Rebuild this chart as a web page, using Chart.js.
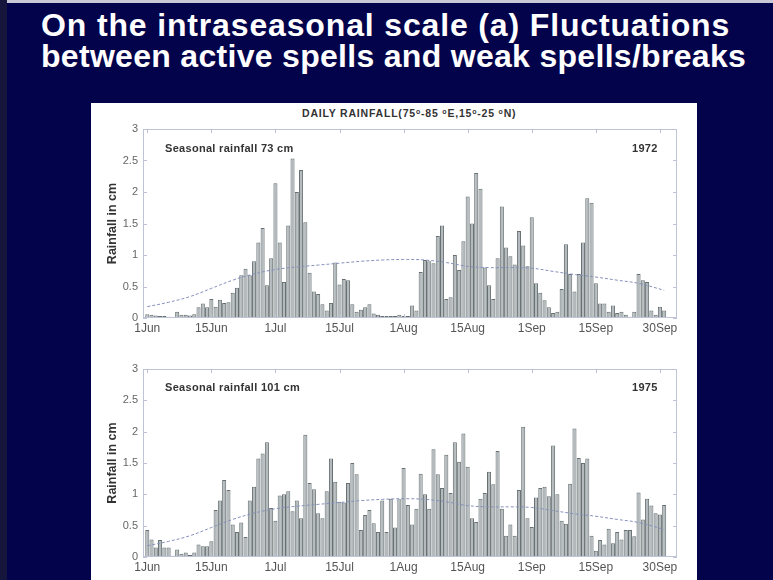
<!DOCTYPE html>
<html>
<head>
<meta charset="utf-8">
<script src="https://cdn.jsdelivr.net/npm/chart.js@4.4.1/dist/chart.umd.min.js"></script>
<style>
  html, body { margin: 0; padding: 0; }
  body {
    width: 773px; height: 580px; overflow: hidden; position: relative;
    background: #03034c; font-family: "Liberation Sans", Arial, sans-serif;
  }
  .edge-top { position: absolute; left: 0; top: 0; width: 773px; height: 3px; background: #c8c8d6; }
  .edge-left { position: absolute; left: 0; top: 0; width: 7px; height: 580px; background: #16163c; }
  .title {
    position: absolute; left: 41px; margin: 0;
    color: #fff; font-size: 32px; line-height: 30px; font-weight: bold; white-space: nowrap;
  }
  .panel { position: absolute; left: 91px; top: 103px; width: 606px; height: 480px; background: #fff; }
  canvas { position: absolute; left: 91px; }
  #chartTop { top: 116px; }
  #chartBottom { top: 356px; }
  .lbl { position: absolute; font-size: 11px; font-weight: bold; color: #333; white-space: nowrap; letter-spacing: 0.3px; }
  .head { position: absolute; left: 302px; top: 107px; font-size: 10.5px; letter-spacing: 0.8px; font-weight: bold; color: #333; white-space: nowrap; }
  .head sup { font-size: 7px; vertical-align: 3px; }
</style>
</head>
<body>
<div class="edge-top"></div>
<div class="edge-left"></div>
<div class="title" style="top:10px; letter-spacing:0.85px;">On the intraseasonal scale (a) Fluctuations</div>
<div class="title" style="top:41px; letter-spacing:0.3px;">between active spells and weak spells/breaks</div>
<div class="panel"></div>
<div class="head">DAILY RAINFALL(75<sup>o</sup>-85 <sup>o</sup>E,15<sup>o</sup>-25 <sup>o</sup>N)</div>
<canvas id="chartTop" width="606" height="224"></canvas>
<canvas id="chartBottom" width="606" height="223"></canvas>
<div class="lbl" style="left:165px; top:142px;">Seasonal rainfall 73 cm</div>
<div class="lbl" style="left:632px; top:142px;">1972</div>
<div class="lbl" style="left:165px; top:381px;">Seasonal rainfall 101 cm</div>
<div class="lbl" style="left:632px; top:381px;">1975</div>

<script>
// daily rainfall (cm), 1 Jun .. 30 Sep
const rain1972 = [
  0.06, 0.05, 0.04, 0.03, 0.03, 0.02, 0, 0.1, 0.05, 0.05,
  0.04, 0.06, 0.17, 0.23, 0.17, 0.3, 0.18, 0.29, 0.24, 0.25,
  0.4, 0.48, 0.68, 0.78, 0.68, 0.9, 1.2, 1.43, 0.52, 0.95,
  2.14, 1.2, 0.57, 1.47, 2.53, 2.0, 2.35, 1.52, 0.72, 0.42,
  0.38, 0.22, 0.12, 0.24, 0.88, 0.53, 0.62, 0.6, 0.22, 0.1,
  0.13, 0.17, 0.22, 0.07, 0.05, 0.03, 0.03, 0.03, 0.03, 0.05,
  0.03, 0.03, 0.2, 0.12, 0.73, 0.92, 0.9, 0.87, 1.3, 1.47,
  0.3, 0.33, 1.0, 0.76, 1.22, 1.93, 1.5, 2.3, 2.05, 0.8,
  0.52, 0.3, 0.95, 1.77, 1.12, 0.98, 0.85, 1.38, 1.15, 0.82,
  1.6, 0.55, 0.4, 0.28, 0.17, 0.08, 0.1, 0.46, 1.17, 0.7,
  0.42, 0.7, 1.2, 1.9, 1.83, 0.55, 0.23, 0.23, 0.1, 0.2,
  0.08, 0.1, 0.05, 0.02, 0.1, 0.7, 0.6, 0.57, 0.12, 0.05,
  0.18, 0.12
];

const rain1975 = [
  0.43, 0.28, 0.15, 0.27, 0.15, 0.15, 0.02, 0.12, 0.05, 0.07,
  0.03, 0.07, 0.2, 0.17, 0.17, 0.25, 0.75, 0.9, 1.23, 1.07,
  0.52, 0.4, 0.55, 0.32, 0.9, 1.12, 1.57, 1.65, 1.83, 0.78,
  0.58, 0.98, 1.0, 1.05, 0.73, 0.9, 0.62, 1.95, 1.18, 1.08,
  0.7, 0.62, 1.05, 1.57, 1.2, 0.88, 0.87, 1.18, 1.5, 1.32,
  0.43, 0.67, 0.75, 0.54, 0.4, 0.9, 0.4, 0.93, 0.47, 0.92,
  1.42, 0.83, 0.52, 0.77, 1.33, 1.0, 0.77, 1.72, 1.32, 1.1,
  1.63, 1.02, 1.83, 1.52, 1.97, 1.44, 0.62, 0.56, 0.93, 1.02,
  1.36, 1.16, 1.69, 0.77, 0.34, 0.52, 0.34, 1.07, 2.08, 0.62,
  0.48, 0.95, 1.1, 1.12, 0.97, 1.78, 1.0, 0.58, 0.53, 1.17,
  2.05, 1.58, 1.5, 1.57, 0.34, 0.1, 0.27, 0.2, 0.45, 0.22,
  0.4, 0.28, 0.43, 0.43, 0.33, 1.03, 0.6, 0.93, 0.82, 0.7,
  0.68, 0.83
];

// climatological daily mean (smooth curve), sampled every 5 days
const climDays = [0, 5, 10, 15, 20, 25, 30, 35, 40, 45, 50, 55, 60, 65, 70, 75, 80, 85, 90, 95, 100, 105, 110, 115, 121];
const climMean = [0.18, 0.25, 0.34, 0.47, 0.6, 0.7, 0.77, 0.81, 0.84, 0.87, 0.9, 0.92, 0.93, 0.92, 0.88, 0.82, 0.8, 0.8, 0.79, 0.74, 0.69, 0.65, 0.6, 0.55, 0.44];

const tickDays = [0, 15, 30, 45, 60, 75, 90, 105, 120];
const tickLabels = ["1Jun", "15Jun", "1Jul", "15Jul", "1Aug", "15Aug", "1Sep", "15Sep", "30Sep"];

const boxPlugin = {
    id: "box",
    afterDatasetsDraw(chart) {
        const { ctx, chartArea: a, scales } = chart;
        ctx.save();
        ctx.strokeStyle = "#bfc3d6";
        ctx.lineWidth = 1;
        ctx.strokeRect(Math.round(a.left) + 0.5, Math.round(a.top) + 0.5, Math.round(a.width) - 1, Math.round(a.height) - 1);
        ctx.beginPath();
        scales.y.ticks.forEach(t => {
            const py = Math.round(scales.y.getPixelForValue(t.value)) + 0.5;
            ctx.moveTo(a.left, py); ctx.lineTo(a.left + 4, py);
            ctx.moveTo(a.right, py); ctx.lineTo(a.right - 4, py);
        });
        scales.x.ticks.forEach(t => {
            const px = Math.round(scales.x.getPixelForValue(t.value)) + 0.5;
            ctx.moveTo(px, a.top); ctx.lineTo(px, a.top + 4);
            ctx.moveTo(px, a.bottom); ctx.lineTo(px, a.bottom - 4);
        });
        ctx.stroke();
        ctx.restore();
    }
};

function makeChart(id, values) {
    const ctx = document.getElementById(id);
    return new Chart(ctx, {
        type: "bar",
        data: {
            datasets: [{
                type: "line",
                data: climDays.map((d, k) => ({ x: d, y: climMean[k] })),
                borderColor: "#8590bc",
                borderWidth: 1,
                borderDash: [3, 2],
                pointRadius: 0,
                tension: 0.4
            }, {
                type: "bar",
                data: values.map((v, i) => ({ x: i, y: v })),
                backgroundColor: "#b3b9bc",
                borderColor: "#667070",
                borderWidth: 1,
                barPercentage: 0.95,
                categoryPercentage: 1
            }]
        },
        options: {
            responsive: false,
            animation: false,
            events: [],
            layout: { padding: { top: 13, right: 20, left: 0, bottom: 0 } },
            plugins: { legend: { display: false }, tooltip: { enabled: false } },
            scales: {
                x: {
                    type: "linear",
                    offset: false,
                    min: -1,
                    max: 124,
                    grid: { display: false, drawTicks: false, offset: false },
                    border: { display: false },
                    afterBuildTicks: s => { s.ticks = tickDays.map(v => ({ value: v })); },
                    afterFit: s => { s.height = 22; },
                    ticks: {
                        autoSkip: false,
                        maxRotation: 0,
                        padding: 3,
                        color: "#555",
                        font: { family: "Liberation Sans", size: 12 },
                        callback: v => tickLabels[tickDays.indexOf(v)]
                    }
                },
                y: {
                    min: 0,
                    max: 3,
                    grid: { display: false, drawTicks: false },
                    border: { display: false },
                    afterFit: s => { s.width = 52; },
                    ticks: {
                        stepSize: 0.5,
                        padding: 5,
                        color: "#666",
                        font: { family: "Liberation Sans", size: 11 },
                        callback: v => String(v)
                    },
                    title: {
                        display: true,
                        text: "Rainfall in cm",
                        color: "#333",
                        padding: { top: 14, bottom: 0 },
                        font: { family: "Liberation Sans", size: 12.5, weight: "bold" }
                    }
                }
            }
        },
        plugins: [boxPlugin]
    });
}

makeChart("chartTop", rain1972);
makeChart("chartBottom", rain1975);
</script>
</body>
</html>
